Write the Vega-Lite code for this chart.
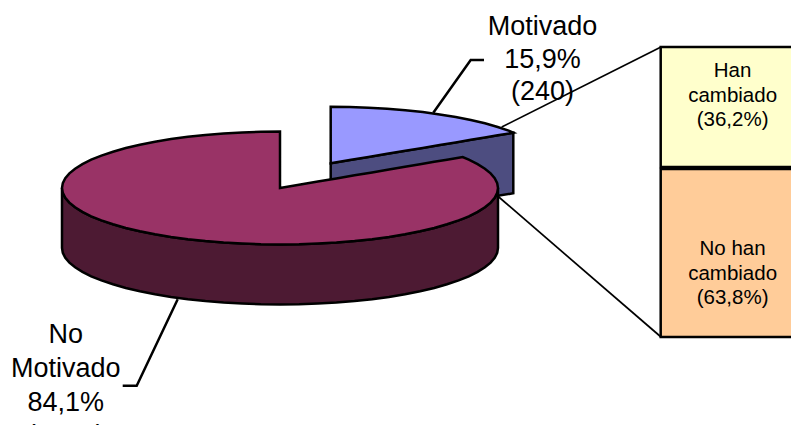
{
  "$schema": "https://vega.github.io/schema/vega-lite/v6.json",
  "width": 791,
  "height": 425,
  "padding": 0,
  "autosize": {"type": "none"},
  "background": "white",
  "config": {"view": {"stroke": null}},
  "datasets": {
    "connectors": [
      {"line": "toTop", "o": 0, "x": 501.7, "y": 127},
      {"line": "toTop", "o": 1, "x": 661, "y": 47},
      {"line": "toBottom", "o": 0, "x": 497, "y": 195.5},
      {"line": "toBottom", "o": 1, "x": 661, "y": 337}
    ],
    "leaders": [
      {"line": "motivado", "o": 0, "x": 433.3, "y": 112.7},
      {"line": "motivado", "o": 1, "x": 470.7, "y": 60},
      {"line": "motivado", "o": 2, "x": 484, "y": 60},
      {"line": "noMotivado", "o": 0, "x": 177.7, "y": 299.3},
      {"line": "noMotivado", "o": 1, "x": 136.7, "y": 385.7},
      {"line": "noMotivado", "o": 2, "x": 122.7, "y": 385.7}
    ],
    "motivadoSide": [
      {"x": 330.7, "y": 163.3, "y2": 223.3},
      {"x": 513.3, "y": 132.7, "y2": 193.3}
    ],
    "motivadoTop": [
      {"x": 330.7, "y": 106.8, "y2": 163.3},
      {"x": 349.7, "y": 107, "y2": 160.1},
      {"x": 368.5, "y": 107.7, "y2": 157},
      {"x": 387.1, "y": 108.7, "y2": 153.8},
      {"x": 405.3, "y": 110.2, "y2": 150.8},
      {"x": 422.8, "y": 112.1, "y2": 147.9},
      {"x": 439.7, "y": 114.4, "y2": 145},
      {"x": 455.7, "y": 117, "y2": 142.4},
      {"x": 470.8, "y": 120, "y2": 139.8},
      {"x": 484.9, "y": 123.3, "y2": 137.5},
      {"x": 497.7, "y": 127, "y2": 135.3},
      {"x": 509.3, "y": 130.9, "y2": 133.4},
      {"x": 513.3, "y": 132.7, "y2": 132.7}
    ],
    "noMotivadoSide": [
      {"x": 62, "y": 188, "y2": 248},
      {"x": 62.8, "y": 192.9, "y2": 252.9},
      {"x": 65.3, "y": 197.8, "y2": 257.8},
      {"x": 69.4, "y": 202.6, "y2": 262.6},
      {"x": 75.1, "y": 207.3, "y2": 267.3},
      {"x": 82.4, "y": 211.9, "y2": 271.9},
      {"x": 91.2, "y": 216.3, "y2": 276.3},
      {"x": 101.4, "y": 220.4, "y2": 280.4},
      {"x": 113, "y": 224.3, "y2": 284.3},
      {"x": 125.8, "y": 228, "y2": 288},
      {"x": 139.9, "y": 231.3, "y2": 291.3},
      {"x": 155, "y": 234.3, "y2": 294.3},
      {"x": 171, "y": 236.9, "y2": 296.9},
      {"x": 187.9, "y": 239.2, "y2": 299.2},
      {"x": 205.4, "y": 241.1, "y2": 301.1},
      {"x": 223.6, "y": 242.6, "y2": 302.6},
      {"x": 242.2, "y": 243.6, "y2": 303.6},
      {"x": 261, "y": 244.3, "y2": 304.3},
      {"x": 280, "y": 244.5, "y2": 304.5},
      {"x": 299, "y": 244.3, "y2": 304.3},
      {"x": 317.8, "y": 243.6, "y2": 303.6},
      {"x": 336.4, "y": 242.6, "y2": 302.6},
      {"x": 354.6, "y": 241.1, "y2": 301.1},
      {"x": 372.1, "y": 239.2, "y2": 299.2},
      {"x": 389, "y": 236.9, "y2": 296.9},
      {"x": 405, "y": 234.3, "y2": 294.3},
      {"x": 420.1, "y": 231.3, "y2": 291.3},
      {"x": 434.2, "y": 228, "y2": 288},
      {"x": 447, "y": 224.3, "y2": 284.3},
      {"x": 458.6, "y": 220.4, "y2": 280.4},
      {"x": 468.8, "y": 216.3, "y2": 276.3},
      {"x": 477.6, "y": 211.9, "y2": 271.9},
      {"x": 484.9, "y": 207.3, "y2": 267.3},
      {"x": 490.6, "y": 202.6, "y2": 262.6},
      {"x": 494.7, "y": 197.8, "y2": 257.8},
      {"x": 497.2, "y": 192.9, "y2": 252.9},
      {"x": 498, "y": 188, "y2": 248}
    ],
    "noMotivadoTop": [
      {"x": 62, "y": 188, "y2": 188},
      {"x": 62.8, "y": 183.1, "y2": 192.9},
      {"x": 65.3, "y": 178.2, "y2": 197.8},
      {"x": 69.4, "y": 173.4, "y2": 202.6},
      {"x": 75.1, "y": 168.7, "y2": 207.3},
      {"x": 82.4, "y": 164.1, "y2": 211.9},
      {"x": 91.2, "y": 159.7, "y2": 216.3},
      {"x": 101.4, "y": 155.6, "y2": 220.4},
      {"x": 113, "y": 151.7, "y2": 224.3},
      {"x": 125.8, "y": 148, "y2": 228},
      {"x": 139.9, "y": 144.7, "y2": 231.3},
      {"x": 155, "y": 141.7, "y2": 234.3},
      {"x": 171, "y": 139.1, "y2": 236.9},
      {"x": 187.9, "y": 136.8, "y2": 239.2},
      {"x": 205.4, "y": 134.9, "y2": 241.1},
      {"x": 223.6, "y": 133.4, "y2": 242.6},
      {"x": 242.2, "y": 132.4, "y2": 243.6},
      {"x": 261, "y": 131.7, "y2": 244.3},
      {"x": 280, "y": 131.5, "y2": 244.5},
      {"x": 280.01, "y": 188, "y2": 244.5},
      {"x": 299, "y": 184.8, "y2": 244.3},
      {"x": 317.8, "y": 181.6, "y2": 243.6},
      {"x": 336.4, "y": 178.4, "y2": 242.6},
      {"x": 354.6, "y": 175.3, "y2": 241.1},
      {"x": 372.1, "y": 172.4, "y2": 239.2},
      {"x": 389, "y": 169.5, "y2": 236.9},
      {"x": 405, "y": 166.8, "y2": 234.3},
      {"x": 420.1, "y": 164.2, "y2": 231.3},
      {"x": 434.2, "y": 161.8, "y2": 228},
      {"x": 447, "y": 159.7, "y2": 224.3},
      {"x": 458.6, "y": 157.7, "y2": 220.4},
      {"x": 462.7, "y": 157, "y2": 218.8},
      {"x": 468.8, "y": 159.7, "y2": 216.3},
      {"x": 477.6, "y": 164.1, "y2": 211.9},
      {"x": 484.9, "y": 168.7, "y2": 207.3},
      {"x": 490.6, "y": 173.4, "y2": 202.6},
      {"x": 494.7, "y": 178.2, "y2": 197.8},
      {"x": 497.2, "y": 183.1, "y2": 192.9},
      {"x": 498, "y": 188, "y2": 188}
    ],
    "breakdown": [
      {"group": "Han cambiado", "share": 36.2, "x": 660.7, "x2": 800, "y": 47, "y2": 167},
      {"group": "No han cambiado", "share": 63.8, "x": 660.7, "x2": 800, "y": 169, "y2": 337}
    ],
    "largeLabels": [
      {"text": "Motivado", "x": 542.5, "y": 35},
      {"text": "15,9%", "x": 542.5, "y": 67.5},
      {"text": "(240)", "x": 542.5, "y": 100},
      {"text": "No", "x": 65.7, "y": 343.3},
      {"text": "Motivado", "x": 65.7, "y": 376.7},
      {"text": "84,1%", "x": 65.7, "y": 410.7},
      {"text": "(1269)", "x": 65.7, "y": 444}
    ],
    "smallLabels": [
      {"text": "Han", "x": 732.6, "y": 76.7},
      {"text": "cambiado", "x": 732.6, "y": 101.5},
      {"text": "(36,2%)", "x": 732.6, "y": 125.7},
      {"text": "No han", "x": 732.6, "y": 255},
      {"text": "cambiado", "x": 732.6, "y": 280},
      {"text": "(63,8%)", "x": 732.6, "y": 304}
    ]
  },
  "encoding": {
    "x": {"field": "x", "type": "quantitative", "axis": null, "scale": {"domain": [0, 791], "nice": false, "zero": false}},
    "y": {"field": "y", "type": "quantitative", "axis": null, "scale": {"domain": [425, 0], "nice": false, "zero": false}}
  },
  "layer": [
    {
      "data": {"name": "connectors"},
      "mark": {"type": "line", "stroke": "black", "strokeWidth": 1.7},
      "encoding": {"detail": {"field": "line"}, "order": {"field": "o"}}
    },
    {
      "data": {"name": "breakdown"},
      "mark": {"type": "rect", "stroke": "black", "strokeWidth": 2.5, "clip": true},
      "encoding": {
        "x2": {"field": "x2"},
        "y2": {"field": "y2"},
        "fill": {"field": "group", "type": "nominal", "legend": null, "scale": {"domain": ["Han cambiado", "No han cambiado"], "range": ["#FFFFCC", "#FFCC99"]}}
      }
    },
    {
      "data": {"name": "motivadoSide"},
      "mark": {"type": "area", "fill": "#4D4D80", "stroke": "black", "strokeWidth": 2.5},
      "encoding": {"y2": {"field": "y2"}}
    },
    {
      "data": {"name": "motivadoTop"},
      "mark": {"type": "area", "fill": "#9999FF", "stroke": "black", "strokeWidth": 2.5},
      "encoding": {"y2": {"field": "y2"}}
    },
    {
      "data": {"name": "noMotivadoSide"},
      "mark": {"type": "area", "fill": "#4D1A33", "stroke": "black", "strokeWidth": 2.5},
      "encoding": {"y2": {"field": "y2"}}
    },
    {
      "data": {"name": "noMotivadoTop"},
      "mark": {"type": "area", "fill": "#993366", "stroke": "black", "strokeWidth": 2.5},
      "encoding": {"y2": {"field": "y2"}}
    },
    {
      "data": {"name": "leaders"},
      "mark": {"type": "line", "stroke": "black", "strokeWidth": 2.5},
      "encoding": {"detail": {"field": "line"}, "order": {"field": "o"}}
    },
    {
      "data": {"name": "largeLabels"},
      "mark": {"type": "text", "font": "Liberation Sans", "fontSize": 27, "align": "center", "baseline": "alphabetic", "color": "black", "clip": true},
      "encoding": {"text": {"field": "text"}}
    },
    {
      "data": {"name": "smallLabels"},
      "mark": {"type": "text", "font": "Liberation Sans", "fontSize": 20.5, "align": "center", "baseline": "alphabetic", "color": "black"},
      "encoding": {"text": {"field": "text"}}
    }
  ]
}
